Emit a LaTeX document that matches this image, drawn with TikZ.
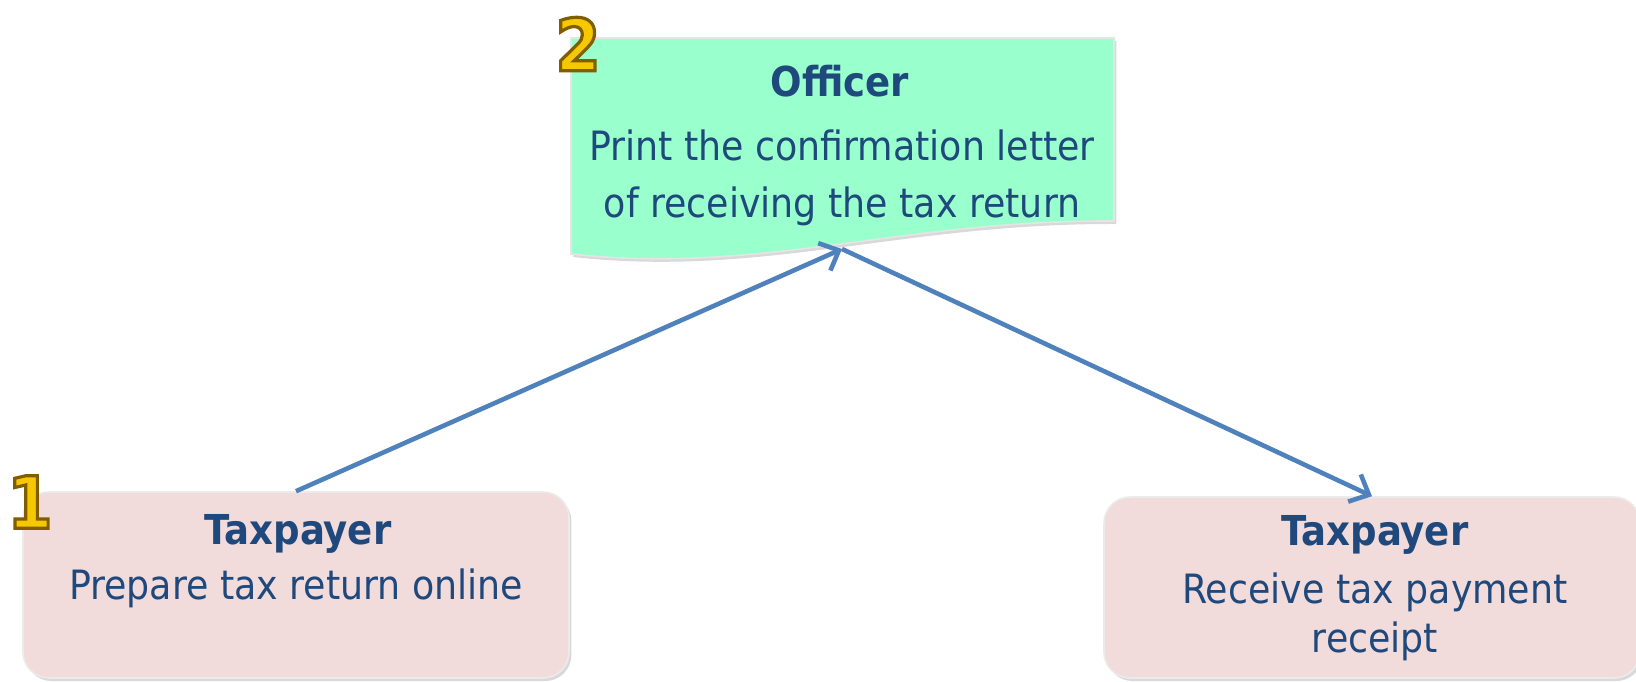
\documentclass[tikz,border=0pt]{standalone}
\usepackage{fontspec}
\setmainfont{DejaVu Sans Condensed}
\usetikzlibrary{arrows.meta,shadows}
\definecolor{txt}{HTML}{1F497D}
\definecolor{pinkfill}{HTML}{F2DCDB}
\definecolor{greenfill}{HTML}{99FFCC}
\definecolor{arrowc}{HTML}{4F81BD}
\definecolor{goldc}{HTML}{F5C800}
\newcommand{\golddigit}[1]{{\color{goldc}\special{pdf:literal direct 2 Tr 1.6 w 0.50 0.37 0 RG}#1\special{pdf:literal direct 0 Tr}}}
\begin{document}
\begin{tikzpicture}[x=0.5pt,y=-0.5pt,
  pinkbox/.style={draw=black!8, line width=0.8pt, fill=pinkfill, rounded corners=13pt,
    drop shadow={shadow xshift=1.2pt,shadow yshift=-1.5pt,opacity=0.3}},
  titletext/.style={text=txt, font=\bfseries\fontsize{20.6}{24}\selectfont, inner sep=0pt},
  bodytext/.style={text=txt, font=\fontsize{20.2}{24}\selectfont, inner sep=0pt},
  flow/.style={draw=arrowc, line width=2.3pt, -{Straight Barb[length=8pt,width=15pt,line width=2.3pt]}},
  badge/.style={font=\bfseries\fontsize{36}{36}\selectfont, inner sep=0pt}
]
\useasboundingbox (0,0) rectangle (1636,681);
% officer document
\path[fill=greenfill, draw=black!10, line width=0.8pt,
  drop shadow={shadow xshift=1.2pt,shadow yshift=-1.5pt,opacity=0.3}]
  (571,38) -- (1114,38) -- (1114,221)
  .. controls (900,220) and (760,275) .. (571,254) -- cycle;
\coordinate (docb) at (842,249);
\node[titletext] (off) at (840,81) {Officer};
\node[bodytext] (off1) at (842,145) {Print the confirmation letter};
\node[bodytext] (off2) at (842,206) {of receiving the tax return};
% taxpayer boxes
\node[pinkbox, minimum width=273pt, minimum height=93pt] (tp1) at (296,585) {};
\node[titletext] (tp1t) at (298,534) {Taxpayer};
\node[bodytext] (tp1b) at (296,588) {Prepare tax return online};
\node[pinkbox, minimum width=268pt, minimum height=90.5pt] (tp2) at (1372,587.5) {};
\node[titletext] (tp2t) at (1375,535) {Taxpayer};
\node[bodytext] (tp2b) at (1375,592) {Receive tax payment};
\node[bodytext] (tp2c) at (1375,641) {receipt};
% badges
\node[badge] (b1) at (30,502) {\golddigit{1}};
\node[badge] (b2) at (578,44) {\golddigit{2}};
% connectors
\draw[flow] (tp1.north) -- (docb);
\draw[flow] (docb) -- (tp2.north);
\end{tikzpicture}
\end{document}
